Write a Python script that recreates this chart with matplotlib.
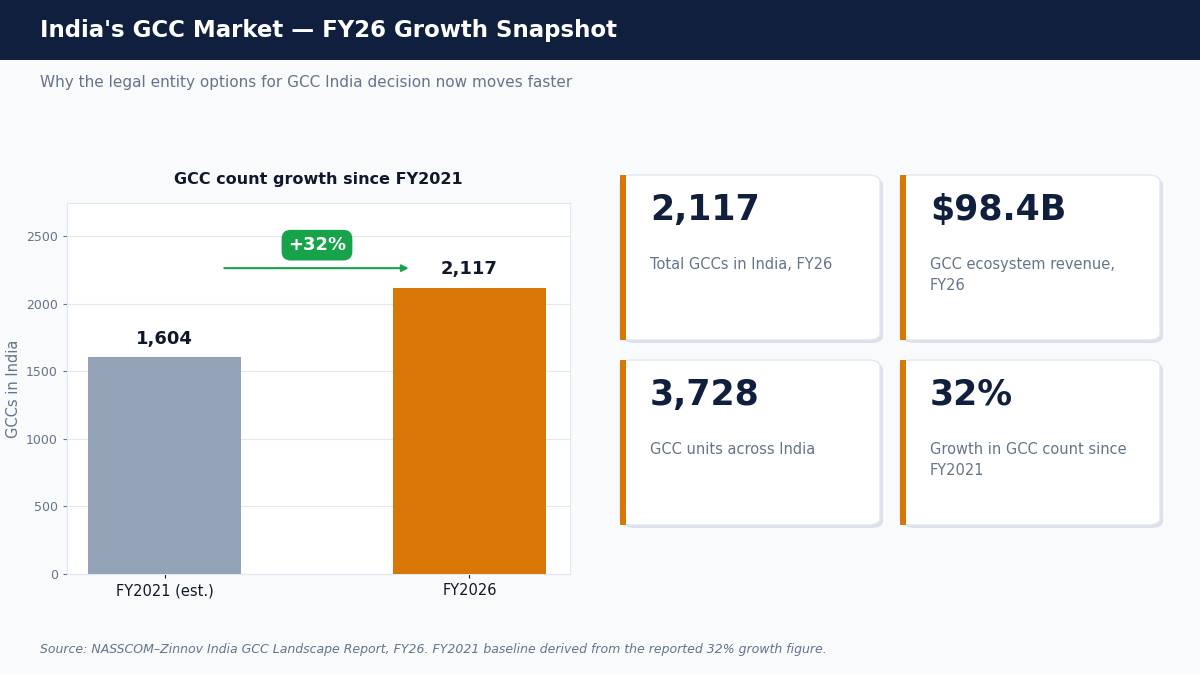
import matplotlib.pyplot as plt
from matplotlib.patches import Rectangle, FancyBboxPatch

categories = ['FY2021 (est.)', 'FY2026']
gcc_counts = [1604, 2117]
bar_labels = ['1,604', '2,117']
growth_label = '+32%'

card_values = ['2,117', '$98.4B', '3,728', '32%']
card_texts = ['Total GCCs in India, FY26', 'GCC ecosystem revenue,\nFY26',
              'GCC units across India', 'Growth in GCC count since\nFY2021']

navy = '#0f1f3d'
grey_txt = '#64748b'
orange = '#d97706'

fig = plt.figure(figsize=(12, 6.75), dpi=100)
fig.patch.set_facecolor('#f8fafc')
W, H = 1200, 675

def fx(px): return px / W
def fy(py): return 1 - py / H

# header band
fig.patches.append(Rectangle((0, fy(60)), 1, 60 / H, transform=fig.transFigure,
                             facecolor=navy, edgecolor='none', zorder=0))
fig.text(fx(40), fy(30), "India's GCC Market — FY26 Growth Snapshot", color='white',
         fontsize=16.5, fontweight='bold', va='center')
fig.text(fx(40), fy(82), 'Why the legal entity options for GCC India decision now moves faster',
         color=grey_txt, fontsize=11, va='center')

# bar chart
ax = fig.add_axes([fx(67), fy(574), fx(570) - fx(67), (574 - 203) / H])
ax.set_facecolor('white')
x = [0, 1]
ax.bar(x, gcc_counts, width=0.5, color=['#94a3b8', orange], zorder=3)
for xi, v, lab in zip(x, gcc_counts, bar_labels):
    ax.text(xi, v + 70, lab, ha='center', va='bottom', fontsize=13, fontweight='bold', color='#0f172a')
ax.set_xlim(-0.32, 1.33)
ax.set_ylim(0, 2745)
ax.set_xticks(x)
ax.set_xticklabels(categories, fontsize=10.5, color='#0f172a')
ax.set_yticks([0, 500, 1000, 1500, 2000, 2500])
ax.tick_params(axis='y', labelsize=9, colors=grey_txt, length=3)
ax.tick_params(axis='x', colors='#0f172a', length=3)
ax.grid(axis='y', color='#e2e8f0', linewidth=0.8, zorder=0)
for s in ax.spines.values():
    s.set_color('#e2e8f0')
ax.set_ylabel('GCCs in India', color=grey_txt, fontsize=10.5)
ax.set_title('GCC count growth since FY2021', fontsize=11.5, fontweight='bold', color='#0f172a', pad=14)
ax.annotate('', xy=(0.81, 2263), xytext=(0.187, 2263),
            arrowprops=dict(arrowstyle='-|>', color='#16a34a', lw=1.5, mutation_scale=10))
ax.text(0.50, 2433, growth_label, ha='center', va='center', fontsize=13, fontweight='bold', color='white',
        bbox=dict(boxstyle='round,pad=0.35,rounding_size=0.5', facecolor='#16a34a', edgecolor='none'))

# KPI cards
positions = [(620, 175), (900, 175), (620, 360), (900, 360)]
cw, ch = 260, 165
for (px, py), val, txt in zip(positions, card_values, card_texts):
    fig.patches.append(FancyBboxPatch((fx(px + 3), fy(py + ch + 3)), cw / W, ch / H,
                                      boxstyle='round,pad=0,rounding_size=0.01', transform=fig.transFigure,
                                      facecolor='#dbe1ea', edgecolor='none', zorder=1))
    fig.patches.append(FancyBboxPatch((fx(px), fy(py + ch)), cw / W, ch / H,
                                      boxstyle='round,pad=0,rounding_size=0.01', transform=fig.transFigure,
                                      facecolor='white', edgecolor='#e2e8f0', zorder=2))
    fig.patches.append(Rectangle((fx(px), fy(py + ch)), 6 / W, ch / H, transform=fig.transFigure,
                                 facecolor=orange, edgecolor='none', zorder=3))
    fig.text(fx(px + 30), fy(py + 35), val, fontsize=25, fontweight='bold', color=navy, va='center', zorder=4)
    fig.text(fx(px + 30), fy(py + 82), txt, fontsize=10.5, color=grey_txt, va='top',
             linespacing=1.5, zorder=4)

fig.text(fx(40), fy(649), 'Source: NASSCOM–Zinnov India GCC Landscape Report, FY26. '
         'FY2021 baseline derived from the reported 32% growth figure.',
         fontsize=9, style='italic', color=grey_txt, va='center')

fig.savefig('out.png', dpi=100, facecolor=fig.get_facecolor())
